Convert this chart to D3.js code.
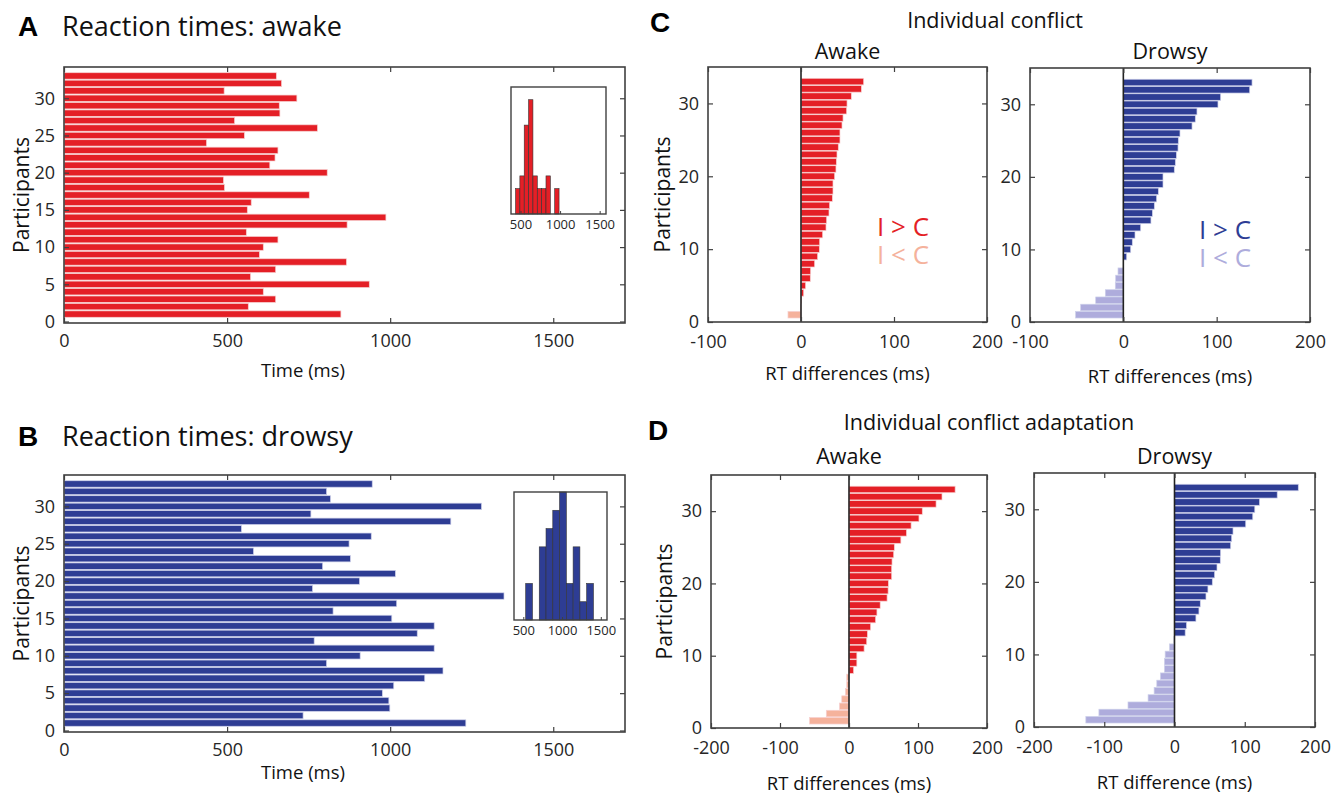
<!DOCTYPE html>
<html>
<head>
<meta charset="utf-8">
<script src="https://cdn.jsdelivr.net/npm/d3@7"></script>
<style>
body { margin: 0; background: #fff; }
text { font-family: "Open Sans", sans-serif; }
</style>
</head>
<body>
<script>

// participants 1..33
var participants = d3.range(1, 34);

// reaction times (ms), participant 1 -> 33
var rtAwake = [849, 565, 649, 611, 936, 572, 649, 866, 599, 611, 656, 559, 868, 987, 562, 574, 752,
    492, 489, 807, 631, 647, 656, 437, 553, 777, 523, 662, 660, 714, 491, 667, 651];
var rtDrowsy = [1232, 733, 999, 996, 976, 1011, 1106, 1162, 805, 908, 1135, 767, 1083, 1135, 1005, 825, 1020,
    1349, 762, 906, 1016, 793, 878, 581, 874, 942, 544, 1186, 757, 1280, 817, 805, 945];

// inset histograms: first edge, bin width, counts
var histAwakeStart = 437, histAwakeWidth = 55;
var histAwakeCounts = [2, 3, 7, 9, 3, 2, 2, 3, 0, 2];
var histDrowsyStart = 531, histDrowsyWidth = 87.4;
var histDrowsyCounts = [2, 0, 4, 5, 6, 7, 2, 4, 1, 2];

// individual conflict (I - C, ms), sorted
var conflictAwake = [-14, -0.4, 0.5, 2.9, 5.0, 10.0, 10.4, 14.7, 17.9, 19.7, 20.1, 23.3, 26.9, 27.6, 30.1, 30.8, 33.7,
    34.4, 34.4, 36.2, 37.6, 38.0, 38.7, 40.1, 41.9, 41.9, 44.1, 45.2, 49.1, 49.5, 54.1, 64.9, 67.4];
var conflictDrowsy = [-51.1, -45.7, -29.6, -19.3, -8.6, -8.2, -5.7, 0, 3.6, 7.9, 9.6, 12.5, 18.6, 29.6, 31.1, 33.2, 35.7,
    37.5, 42.5, 42.5, 54.6, 55.7, 56.8, 58.6, 58.9, 60.7, 73.6, 77.1, 78.9, 101.4, 104.3, 135.4, 137.9];

// individual conflict adaptation (ms), sorted
var adaptAwake = [-57.1, -32.9, -13.8, -10.5, -5.2, -3.3, -3.3, 6.7, 11.4, 11.4, 21.9, 25.7, 26.7, 31.4, 38.6, 40.5, 45.2,
    55.2, 56.7, 57.1, 61.9, 61.9, 62.4, 64.8, 65.7, 75.2, 83.3, 90, 101.4, 106.2, 126.2, 134.8, 153.8];
var adaptDrowsy = [-126.2, -107.6, -66.2, -37.6, -29, -25.2, -20, -14.3, -14.3, -13.3, -7.1, -0.9, 15.2, 17.1, 30.5, 34.8, 36.7,
    44.8, 47.6, 53.8, 57.1, 60.5, 65.2, 65.7, 80, 81.4, 83.3, 101.4, 111.4, 114.3, 121, 146.2, 176.2];

var rtTicks = [0, 500, 1000, 1500];
var rtYTicks = [0, 5, 10, 15, 20, 25, 30];
var diffYTicks = [0, 10, 20, 30];
var conflictTicks = [-100, 0, 100, 200];
var adaptTicks = [-200, -100, 0, 100, 200];
var insetTicks = [500, 1000, 1500];

var red = "#e41f26", redLight = "#f5b29c";
var blue = "#2e3d94", blueLight = "#aeacdc";
var axisCol = "#404040", labelCol = "#262626";

var plain = function(d) { return String(d); }; // keep "-100", no thousands comma

var svg = d3.select("body").append("svg")
    .attr("width", 1344)
    .attr("height", 794);

function styleAxis(a) {
    a.select(".domain").remove();
    a.selectAll(".tick line").attr("stroke", axisCol).attr("stroke-width", 1.2);
    a.selectAll(".tick text")
        .attr("fill", labelCol)
        .style("font-size", "18px")
        .style("font-family", "'Open Sans', sans-serif");
}

function axesBox(g, xs, ys, xticks, yticks, box, xpad) {
    // inward ticks on all four sides, like matlab "box on"
    g.append("g").attr("transform", "translate(0," + box.b + ")")
        .call(d3.axisBottom(xs).tickValues(xticks).tickFormat(plain).tickSizeInner(-5).tickSizeOuter(0).tickPadding(xpad))
        .call(styleAxis);
    g.append("g").attr("transform", "translate(0," + box.t + ")")
        .call(d3.axisTop(xs).tickValues(xticks).tickSizeInner(-5).tickSizeOuter(0).tickFormat(""))
        .call(styleAxis);
    g.append("g").attr("transform", "translate(" + box.l + ",0)")
        .call(d3.axisLeft(ys).tickValues(yticks).tickFormat(plain).tickSizeInner(-5).tickSizeOuter(0).tickPadding(9))
        .call(styleAxis);
    g.append("g").attr("transform", "translate(" + box.r + ",0)")
        .call(d3.axisRight(ys).tickValues(yticks).tickSizeInner(-5).tickSizeOuter(0).tickFormat(""))
        .call(styleAxis);
    g.append("rect")
        .attr("x", box.l).attr("y", box.t)
        .attr("width", box.r - box.l).attr("height", box.b - box.t)
        .attr("fill", "none").attr("stroke", axisCol).attr("stroke-width", 1.6);
}

function barPanel(opt) {
    var box = opt.box;
    var g = svg.append("g");
    var xs = d3.scaleLinear().domain(opt.xdom).range([box.l, box.r]);
    var ys = d3.scaleLinear().domain(opt.ydom).range([box.b, box.t]);
    var band = Math.abs(ys(1) - ys(0)) * opt.fill;

    g.selectAll("rect.bar").data(opt.values).enter().append("rect")
        .attr("class", "bar")
        .attr("x", function(d) { return xs(Math.min(0, d)); })
        .attr("width", function(d) { return Math.abs(xs(d) - xs(0)); })
        .attr("y", function(d, i) { return ys(participants[i]) - band / 2; })
        .attr("height", band)
        .attr("fill", function(d) { return d < 0 ? opt.neg : opt.pos; })
        .attr("stroke", opt.edge)
        .attr("stroke-width", 0.7);

    if (opt.zeroLine) {
        g.append("line")
            .attr("x1", xs(0)).attr("x2", xs(0))
            .attr("y1", box.t).attr("y2", box.b)
            .attr("stroke", "#222").attr("stroke-width", 1.6);
    }

    axesBox(g, xs, ys, opt.xticks, opt.yticks, box, opt.xpad || 11);

    if (opt.ylabX != null) {
        g.append("text")
            .attr("transform", "translate(" + opt.ylabX + "," + ((box.t + box.b) / 2) + ") rotate(-90)")
            .attr("text-anchor", "middle")
            .attr("dy", "0.35em")
            .attr("fill", "#111")
            .style("font-size", "21px")
            .text("Participants");
    }

    g.append("text")
        .attr("x", opt.xlabX != null ? opt.xlabX : (box.l + box.r) / 2)
        .attr("y", opt.xlabY)
        .attr("text-anchor", "middle")
        .attr("dy", "0.35em")
        .attr("fill", "#111")
        .style("font-size", "18.5px")
        .text(opt.xlabel);

    if (opt.title) {
        g.append("text")
            .attr("x", (box.l + box.r) / 2)
            .attr("y", box.t - opt.titleGap)
            .attr("text-anchor", "middle")
            .attr("fill", "#111")
            .style("font-size", "21.5px")
            .text(opt.title);
    }
    return g;
}

function inset(g, box, start, width, counts, ymax, color) {
    var xs = d3.scaleLinear().domain([380, 1580]).range([box.l, box.r]);
    var ys = d3.scaleLinear().domain([0, ymax]).range([box.b, box.t]);
    g.append("rect")
        .attr("x", box.l).attr("y", box.t)
        .attr("width", box.r - box.l).attr("height", box.b - box.t)
        .attr("fill", "#fff");
    g.selectAll("rect.hb").data(counts).enter().append("rect")
        .attr("class", "hb")
        .attr("x", function(d, i) { return xs(start + i * width); })
        .attr("width", xs(start + width) - xs(start))
        .attr("y", function(d) { return ys(d); })
        .attr("height", function(d) { return ys(0) - ys(d); })
        .attr("fill", color)
        .attr("stroke", "#333")
        .attr("stroke-width", 0.6);
    var ax = g.append("g").attr("transform", "translate(0," + box.b + ")")
        .call(d3.axisBottom(xs).tickValues(insetTicks).tickFormat(plain).tickSizeInner(-3).tickSizeOuter(0).tickPadding(6));
    ax.select(".domain").remove();
    ax.selectAll(".tick line").attr("stroke", axisCol);
    ax.selectAll(".tick text").attr("fill", labelCol)
        .style("font-size", "13px").style("font-family", "'Open Sans', sans-serif");
    g.append("rect")
        .attr("x", box.l).attr("y", box.t)
        .attr("width", box.r - box.l).attr("height", box.b - box.t)
        .attr("fill", "none").attr("stroke", axisCol).attr("stroke-width", 1.4);
}

function panelLetter(x, y, letter) {
    svg.append("text")
        .attr("x", x).attr("y", y)
        .style("font-family", "'Liberation Sans', Arial, sans-serif")
        .style("font-weight", "bold")
        .style("font-size", "28px")
        .attr("fill", "#000")
        .text(letter);
}

function heading(x, y, str, size, anchor) {
    svg.append("text")
        .attr("x", x).attr("y", y)
        .attr("text-anchor", anchor || "start")
        .attr("fill", "#111")
        .style("font-size", size + "px")
        .text(str);
}

function legend(x, y, pos, neg) {
    svg.append("text").attr("x", x).attr("y", y)
        .attr("fill", pos).style("font-size", "26px").text("I > C");
    svg.append("text").attr("x", x).attr("y", y + 28)
        .attr("fill", neg).style("font-size", "26px").text("I < C");
}

// ---- A ----
panelLetter(18, 36, "A");
heading(62, 36, "Reaction times: awake", 27);
var gA = barPanel({
    box: {l: 64, r: 625, t: 67, b: 323},
    xdom: [0, 1720], ydom: [-0.2, 34.2],
    xticks: rtTicks, yticks: rtYTicks,
    values: rtAwake, pos: red, neg: red, edge: "#f7d0d0", fill: 0.86,
    ylabX: 22, xlabY: 371, xlabX: 303, xlabel: "Time (ms)"
});
inset(gA, {l: 511, r: 606, t: 87, b: 214}, histAwakeStart, histAwakeWidth, histAwakeCounts, 10, red);

// ---- B ----
panelLetter(18, 446, "B");
heading(62, 446, "Reaction times: drowsy", 27);
var gB = barPanel({
    box: {l: 64, r: 625, t: 475, b: 732},
    xdom: [0, 1720], ydom: [-0.2, 34.2],
    xticks: rtTicks, yticks: rtYTicks,
    values: rtDrowsy, pos: blue, neg: blue, edge: "#cdd0ea", fill: 0.86,
    ylabX: 22, xlabY: 773, xlabX: 303, xlabel: "Time (ms)"
});
inset(gB, {l: 514, r: 607, t: 492, b: 620}, histDrowsyStart, histDrowsyWidth, histDrowsyCounts, 7, blue);

// ---- C ----
panelLetter(650, 32, "C");
heading(995, 28, "Individual conflict", 21.5, "middle");
barPanel({
    box: {l: 708, r: 987, t: 67, b: 322},
    xdom: [-100, 200], ydom: [0, 35],
    xticks: conflictTicks, yticks: diffYTicks,
    values: conflictAwake, pos: red, neg: redLight, edge: "#f7d0d0", fill: 0.9, zeroLine: true, xpad: 13,
    ylabX: 663, xlabY: 374, xlabel: "RT differences (ms)", title: "Awake", titleGap: 8
});
barPanel({
    box: {l: 1030, r: 1310, t: 68, b: 322},
    xdom: [-100, 200], ydom: [0, 35],
    xticks: conflictTicks, yticks: diffYTicks,
    values: conflictDrowsy, pos: blue, neg: blueLight, edge: "#cdd0ea", fill: 0.9, zeroLine: true, xpad: 13,
    ylabX: null, xlabY: 377, xlabel: "RT differences (ms)", title: "Drowsy", titleGap: 9
});
legend(877, 236, red, redLight);
legend(1199, 239, blue, blueLight);

// ---- D ----
panelLetter(648, 440, "D");
heading(989, 430, "Individual conflict adaptation", 21.5, "middle");
barPanel({
    box: {l: 711, r: 987, t: 475, b: 728},
    xdom: [-200, 200], ydom: [0, 35],
    xticks: adaptTicks, yticks: diffYTicks,
    values: adaptAwake, pos: red, neg: redLight, edge: "#f7d0d0", fill: 0.9, zeroLine: true, xpad: 13,
    ylabX: 665, xlabY: 784, xlabel: "RT differences (ms)", title: "Awake", titleGap: 11
});
barPanel({
    box: {l: 1034, r: 1315, t: 473, b: 727},
    xdom: [-200, 200], ydom: [0, 35],
    xticks: adaptTicks, yticks: diffYTicks,
    values: adaptDrowsy, pos: blue, neg: blueLight, edge: "#cdd0ea", fill: 0.9, zeroLine: true, xpad: 13,
    ylabX: null, xlabY: 783, xlabel: "RT difference (ms)", title: "Drowsy", titleGap: 9
});

</script>
</body>
</html>
